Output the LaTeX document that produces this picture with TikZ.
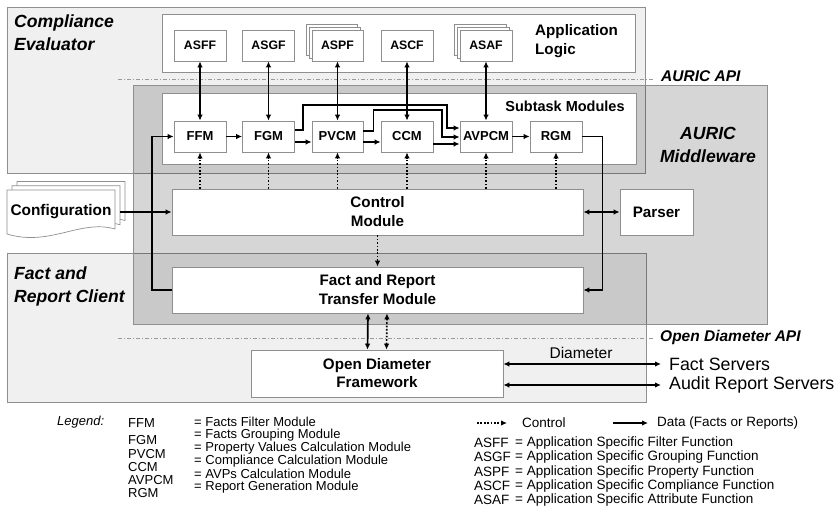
\documentclass[tikz,border=0pt]{standalone}
\usepackage{fontspec}
\setmainfont{Liberation Sans}
\usetikzlibrary{arrows.meta}
\definecolor{bord}{HTML}{8F8F8F}
\definecolor{panefill}{HTML}{F0F0F0}
\definecolor{apiline}{HTML}{9A9A9A}
\newcommand{\setfs}[2]{\fontsize{#1}{#2}\selectfont}
\begin{document}
\begin{tikzpicture}[x=1pt,y=-1pt,
  >={Latex[length=6pt,width=5.5pt]},
  pane/.style={draw=bord,line width=0.7pt,fill=panefill},
  wbox/.style={draw=bord,line width=0.7pt,fill=white,inner sep=0pt},
  appbox/.style={wbox,minimum width=52pt,minimum height=31pt,font=\bfseries\setfs{12.3}{14}},
  modbox/.style={wbox,minimum width=52pt,minimum height=31pt,font=\bfseries\setfs{13}{15}},
  bigbox/.style={wbox,font=\bfseries\setfs{15.2}{19},align=center},
  data/.style={line width=1.7pt,->},
  bidata/.style={line width=1.7pt,<->},
  ctrl/.style={line width=1.7pt,dash pattern=on 1.7pt off 1.7pt,->},
  bictrl/.style={line width=1.7pt,dash pattern=on 1.7pt off 1.7pt,<->},
  api/.style={draw=apiline,line width=0.8pt,dash pattern=on 4pt off 2pt on 1pt off 2pt},
  title/.style={font=\bfseries\itshape\setfs{17.6}{23},align=left,inner sep=0pt},
  apilab/.style={font=\bfseries\itshape\setfs{15.5}{18},inner sep=0pt,anchor=west},
  leg/.style={font=\setfs{13}{15},inner sep=0pt,anchor=west},
  legr/.style={font=\setfs{13.5}{15},inner sep=0pt,anchor=west},
]
\useasboundingbox (0,0) rectangle (840,515);

% panes
\draw[pane] (7,7) rectangle (645,173);
\draw[pane] (7,253) rectangle (646,402);
\draw[draw=bord,line width=0.7pt,fill=black,fill opacity=0.16] (133,85) rectangle (767,324);

% titles
\node[title,anchor=north west] (cetitle) at (14,14.5) {Compliance\\Evaluator};
\node[title,anchor=north west] (frctitle) at (14,266.5) {Fact and\\Report Client};
\node[title,align=center] (mwtitle) at (708,145) {AURIC\\Middleware};

% application logic
\node[wbox,minimum width=473pt,minimum height=58pt] (applogic) at (398.5,43) {};
\node[font=\bfseries\setfs{15.2}{19},align=left,inner sep=0pt,anchor=west] (apptext) at (535,41.5) {Application\\Logic};

% stacked pages behind ASPF and ASAF
\foreach \d in {6,3} {
  \draw[wbox] (312-\d,30-\d) rectangle (363-\d,61-\d);
  \draw[wbox] (460-\d,30-\d) rectangle (512-\d,61-\d);
}
\node[appbox] (asff) at (200,45.5) {ASFF};
\node[appbox] (asgf) at (268.5,45.5) {ASGF};
\node[appbox,minimum width=51pt] (aspf) at (337.5,45.5) {ASPF};
\node[appbox] (ascf) at (407,45.5) {ASCF};
\node[appbox] (asaf) at (486,45.5) {ASAF};

% API lines
\coordinate (aa1) at (118,79); \coordinate (aa2) at (653,79);
\draw[api] (aa1) -- (aa2);
\node[apilab] (auricapi) at (661,76) {AURIC API};
\coordinate (oa1) at (118,338); \coordinate (oa2) at (653,338);
\draw[api] (oa1) -- (oa2);
\node[apilab] (odapi) at (660,337.5) {Open Diameter API};

% subtask modules
\node[wbox,minimum width=474pt,minimum height=71pt] (subtask) at (399,128.5) {};
\node[font=\bfseries\setfs{14.5}{17},inner sep=0pt] (subtext) at (565,106) {Subtask Modules};

\node[modbox] (ffm) at (200,136.5) {FFM};
\node[modbox] (fgm) at (268.5,136.5) {FGM};
\node[modbox,minimum width=51pt] (pvcm) at (337.5,136.5) {PVCM};
\node[modbox] (ccm) at (407,136.5) {CCM};
\node[modbox] (avpcm) at (486,136.5) {AVPCM};
\node[modbox] (rgm) at (556,136.5) {RGM};

% control, parser, transfer, framework
\node[bigbox,minimum width=411pt,minimum height=46pt] (control) at (377.5,212) {Control\\Module};
\node[bigbox,minimum width=73pt,minimum height=46pt] (parser) at (656.5,212) {Parser};
\node[bigbox,minimum width=411pt,minimum height=46pt] (frtm) at (377.5,290) {Fact and Report\\Transfer Module};
\node[bigbox,minimum width=252pt,minimum height=47pt,font=\bfseries\setfs{15.2}{18}] (odf) at (377,373.5) {Open Diameter\\Framework};

% configuration document stack
\foreach \s in {10,5,0} {
  \begin{scope}[shift={(\s,-\s*0.85)}]
    \draw[wbox] (7,190) -- (115,190) -- (115,229) .. controls (80,219) and (50,247) .. (7,234) -- cycle;
  \end{scope}
}
\node[font=\bfseries\setfs{15.4}{18},inner sep=0pt] (config) at (61,212) {Configuration};
\coordinate (cfgout) at (120,212);

% app <-> module arrows
\foreach \a/\m in {asff/ffm,asgf/fgm,aspf/pvcm,ascf/ccm,asaf/avpcm}
  \draw[bidata] (\a.south) -- (\a.south |- \m.north);

% module chain
\draw[data] (ffm) -- (fgm);
\draw[data] ([yshift=-5.5pt]fgm.east) -- ([yshift=-5.5pt]pvcm.west);
\draw[data] ([yshift=-5.5pt]pvcm.east) -- ([yshift=-5.5pt]ccm.west);
\draw[data] ([yshift=-7.5pt]ccm.east) -- ([yshift=-7.5pt]avpcm.west);
\draw[data] (avpcm) -- (rgm);
\draw[data] ([yshift=6.5pt]fgm.east) -- ++(8,0) -- ++(0,-25) -| ([xshift=-13pt,yshift=8.5pt]avpcm.west) -- ([yshift=8.5pt]avpcm.west);
\draw[data] ([yshift=5.5pt]pvcm.east) -- ++(10,0) -- ++(0,-21) -| ([xshift=-18pt,yshift=-0.5pt]avpcm.west) -- ([yshift=-0.5pt]avpcm.west);

% data loops
\draw[data] (frtm.west) -- ++(-20,0) |- (ffm.west);
\draw[data] (rgm.east) -- ++(20,0) |- (frtm.east);
\draw[data] (cfgout) -- (control.west);
\draw[bidata] (control.east) -- (parser.west);

% control arrows
\foreach \m in {ffm,fgm,pvcm,ccm,avpcm,rgm}
  \draw[ctrl] (\m.south |- control.north) -- (\m.south);
\draw[ctrl] (control.south) -- (frtm.north);

% transfer <-> framework
\draw[bidata] ([xshift=-9.5pt]frtm.south) -- ([xshift=-9.5pt]odf.north);
\draw[bictrl] ([xshift=9.5pt]frtm.south) -- ([xshift=9.5pt]odf.north);

% diameter servers
\node[font=\setfs{15.5}{18},inner sep=0pt] (diam) at (581,353) {Diameter};
\node[font=\setfs{17.8}{20},inner sep=0pt,anchor=west] (fsrv) at (669,364) {Fact Servers};
\node[font=\setfs{17.8}{20},inner sep=0pt,anchor=west] (asrv) at (669,385) {Audit Report Servers};
\draw[bidata,shorten >=8pt] (odf.east |- fsrv.west) -- (fsrv.west);
\draw[bidata,shorten >=8pt] (odf.east |- asrv.west) -- (asrv.west);

% legend left
\node[leg,font=\itshape\setfs{13}{15}] (legend) at (57,422) {Legend:};
\node[leg] (l1a) at (128,423) {FFM};   \node[leg] (l1b) at (194,421.5) {= Facts Filter Module};
\node[leg] (l2a) at (128,440) {FGM};   \node[leg] (l2b) at (194,435.5) {= Facts Grouping Module};
\node[leg] (l3a) at (128,454.5) {PVCM};  \node[leg] (l3b) at (194,448.5) {= Property Values Calculation Module};
\node[leg] (l4a) at (128,467.5) {CCM};   \node[leg] (l4b) at (194,461) {= Compliance Calculation Module};
\node[leg] (l5a) at (128,480) {AVPCM}; \node[leg] (l5b) at (194,474) {= AVPs Calculation Module};
\node[leg] (l6a) at (128,493) {RGM};   \node[leg] (l6b) at (194,487) {= Report Generation Module};

% legend right
\coordinate (lc1) at (477,423); \coordinate (lc2) at (507,423);
\draw[ctrl] (lc1) -- (lc2);
\node[legr] (lctrl) at (522,423) {Control};
\coordinate (ld1) at (613,423); \coordinate (ld2) at (648,423);
\draw[data] (ld1) -- (ld2);
\node[legr] (ldata) at (657,423) {Data (Facts or Reports)};
\node[legr] (r1a) at (474,443) {ASFF}; \node[legr] (r1b) at (515,443) {= Application Specific Filter Function};
\node[legr] (r2a) at (474,457) {ASGF}; \node[legr] (r2b) at (515,457) {= Application Specific Grouping Function};
\node[legr] (r3a) at (474,471.5) {ASPF}; \node[legr] (r3b) at (515,471.5) {= Application Specific Property Function};
\node[legr] (r4a) at (474,486) {ASCF}; \node[legr] (r4b) at (515,486) {= Application Specific Compliance Function};
\node[legr] (r5a) at (474,500) {ASAF}; \node[legr] (r5b) at (515,500) {= Application Specific Attribute Function};
\end{tikzpicture}
\end{document}
